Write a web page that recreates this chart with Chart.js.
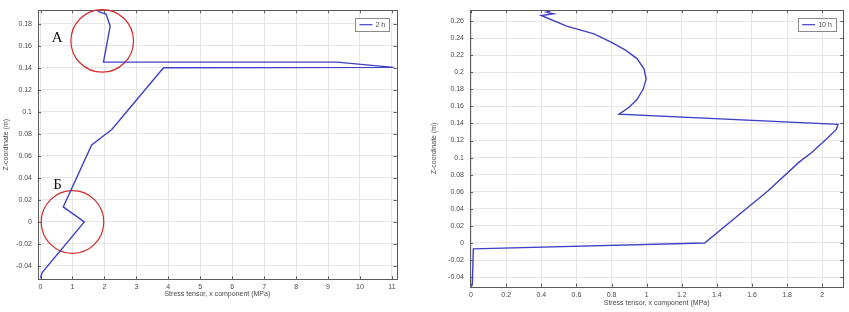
<!DOCTYPE html>
<html lang="en">
<head>
<meta charset="UTF-8">
<title>Stress tensor, x component</title>
<script src="https://cdn.jsdelivr.net/npm/chart.js"></script>
<style>
  body { margin: 0; background: #fff; width: 849px; height: 312px; position: relative; overflow: hidden; }
  canvas { position: absolute; top: 0; }
</style>
</head>
<body>
<canvas id="chart2h" width="410" height="312" style="left:0px"></canvas>
<canvas id="chart10h" width="429" height="312" style="left:420px"></canvas>

<script>
// ---- data: 2 h profile (left) ----
var stress2h = [0.0, 0.05, 1.37, 0.71, 1.6, 2.23, 3.85, 11.05, 9.28, 1.97, 2.18, 2.05, 1.79];
var zcoord2h = [-0.051, -0.046, 0.0, 0.0137, 0.070, 0.084, 0.1402, 0.1405, 0.1453, 0.1453, 0.178, 0.189, 0.1915];
var xTicks2h = [0, 1, 2, 3, 4, 5, 6, 7, 8, 9, 10, 11];
var yTicks2h = [-0.04, -0.02, 0, 0.02, 0.04, 0.06, 0.08, 0.1, 0.12, 0.14, 0.16, 0.18];
// highlighted zones (circles) and their letters
var circleX = [1.93, 1.0];
var circleZ = [0.1646, 0.0];
var noteText = ['А', 'Б'];
var noteX = [0.52, 0.53];
var noteZ = [0.167, 0.0337];

// ---- data: 10 h profile (right) ----
var stress10h = [0.007, 0.013, 1.33, 1.69, 1.87, 1.94, 2.03, 2.08, 2.09, 0.843, 0.90, 0.945, 0.98, 0.997, 0.985, 0.945, 0.88, 0.80, 0.70, 0.545, 0.40, 0.47, 0.43, 0.45];
var zcoord10h = [-0.050, -0.0069, 0.0, 0.061, 0.095, 0.106, 0.123, 0.133, 0.139, 0.151, 0.159, 0.168, 0.180, 0.192, 0.204, 0.216, 0.226, 0.235, 0.245, 0.254, 0.2665, 0.2685, 0.2705, 0.2715];
var xTicks10h = [0, 0.2, 0.4, 0.6, 0.8, 1, 1.2, 1.4, 1.6, 1.8, 2];
var yTicks10h = [-0.04, -0.02, 0, 0.02, 0.04, 0.06, 0.08, 0.1, 0.12, 0.14, 0.16, 0.18, 0.2, 0.22, 0.24, 0.26];

var lineColor = '#4040c6';
var textColor = '#4a4a4a';
var gridColor = '#e6e6e6';
var fontFamily = '"Liberation Sans", Arial, sans-serif';

function toPoints(xs, ys) {
    return xs.map(function(x, i) { return { x: x, y: ys[i] }; });
}

function fmt(v) {
    return String(+v.toFixed(2));
}

// frame, inner tick marks, legend box and letters
function decorPlugin(legendText, notes) {
    return {
        id: 'decor',
        beforeDatasetsDraw: function(chart) {
            var ctx = chart.ctx, a = chart.chartArea;
            var xs = chart.scales.x, ys = chart.scales.y;
            ctx.save();
            ctx.strokeStyle = '#5a5a5a';
            ctx.lineWidth = 1;
            ctx.beginPath();
            xs.ticks.forEach(function(t) {
                var px = Math.round(xs.getPixelForValue(t.value)) + 0.5;
                ctx.moveTo(px, a.bottom); ctx.lineTo(px, a.bottom - 3);
                ctx.moveTo(px, a.top); ctx.lineTo(px, a.top + 3);
            });
            ys.ticks.forEach(function(t) {
                var py = Math.round(ys.getPixelForValue(t.value)) + 0.5;
                ctx.moveTo(a.left, py); ctx.lineTo(a.left + 3, py);
                ctx.moveTo(a.right, py); ctx.lineTo(a.right - 3, py);
            });
            ctx.stroke();
            ctx.strokeRect(Math.round(a.left) + 0.5, Math.round(a.top) + 0.5,
                           Math.round(a.right - a.left), Math.round(a.bottom - a.top));
            ctx.restore();
        },
        afterDraw: function(chart) {
            var ctx = chart.ctx, a = chart.chartArea;
            ctx.save();
            // legend
            ctx.font = '7px ' + fontFamily;
            var tw = ctx.measureText(legendText).width;
            var w = 4 + 13 + 3 + tw + 4, h = 13;
            var bx = a.right - 7.5 - w, by = a.top + 7.5;
            ctx.fillStyle = '#fff';
            ctx.fillRect(bx, by, w, h);
            ctx.strokeStyle = '#8a8a8a';
            ctx.lineWidth = 1;
            ctx.strokeRect(Math.round(bx) + 0.5, Math.round(by) + 0.5, Math.round(w), h);
            ctx.strokeStyle = lineColor;
            ctx.lineWidth = 1.2;
            ctx.beginPath();
            ctx.moveTo(bx + 4, by + h / 2 + 0.5);
            ctx.lineTo(bx + 17, by + h / 2 + 0.5);
            ctx.stroke();
            ctx.fillStyle = textColor;
            ctx.textBaseline = 'middle';
            ctx.fillText(legendText, bx + 20, by + h / 2 + 0.5);
            // letters
            if (notes) {
                ctx.font = '15px "Liberation Serif", "DejaVu Serif", serif';
                ctx.fillStyle = '#111';
                ctx.textAlign = 'center';
                ctx.textBaseline = 'middle';
                notes.text.forEach(function(s, i) {
                    ctx.fillText(s, chart.scales.x.getPixelForValue(notes.x[i]),
                                    chart.scales.y.getPixelForValue(notes.z[i]));
                });
            }
            ctx.restore();
        }
    };
}

function makeChart(id, o) {
    var datasets = [{
        label: o.legend,
        data: toPoints(o.xs, o.ys),
        showLine: true,
        borderColor: lineColor,
        borderWidth: 1.4,
        pointRadius: 0,
        tension: 0
    }];
    if (o.circles) {
        datasets.push({
            label: 'zones',
            data: toPoints(o.circles.x, o.circles.z),
            showLine: false,
            pointStyle: 'circle',
            pointRadius: 31.3,
            borderColor: '#d42a2a',
            borderWidth: 1.2,
            backgroundColor: 'rgba(0,0,0,0)',
            clip: false
        });
    }
    new Chart(document.getElementById(id).getContext('2d'), {
        type: 'scatter',
        data: { datasets: datasets },
        options: {
            responsive: false,
            animation: false,
            layout: { autoPadding: false, padding: { top: o.padTop, right: o.padRight, left: 0, bottom: 0 } },
            plugins: { legend: { display: false }, tooltip: { enabled: false } },
            scales: {
                x: {
                    type: 'linear',
                    min: o.xMin, max: o.xMax,
                    afterBuildTicks: function(s) { s.ticks = o.xTicks.map(function(v) { return { value: v }; }); },
                    afterFit: function(s) { s.height = o.xAxisH; },
                    grid: { color: gridColor, drawTicks: false },
                    border: { display: false },
                    ticks: { padding: 4, color: textColor, font: { size: 7, family: fontFamily }, maxRotation: 0, callback: fmt },
                    title: { display: true, text: 'Stress tensor, x component (MPa)', color: textColor,
                             font: { size: 7, family: fontFamily }, padding: { top: 0, bottom: o.xTitlePad } }
                },
                y: {
                    type: 'linear',
                    min: o.yMin, max: o.yMax,
                    afterBuildTicks: function(s) { s.ticks = o.yTicks.map(function(v) { return { value: v }; }); },
                    afterFit: function(s) { s.width = o.yAxisW; },
                    grid: { color: gridColor, drawTicks: false },
                    border: { display: false },
                    ticks: { padding: 6, color: textColor, font: { size: 7, family: fontFamily }, callback: fmt },
                    title: { display: true, text: 'Z-coordinate (m)', color: textColor,
                             font: { size: 7, family: fontFamily }, padding: { top: o.yTitlePad, bottom: 0 } }
                }
            }
        },
        plugins: [decorPlugin(o.legend, o.notes)]
    });
}

makeChart('chart2h', {
    legend: '2 h',
    xs: stress2h, ys: zcoord2h,
    xTicks: xTicks2h, yTicks: yTicks2h,
    xMin: -0.08, xMax: 11.15, yMin: -0.0521, yMax: 0.1925,
    padTop: 5.3, padRight: 13.3, xAxisH: 32.7, yAxisW: 38,
    xTitlePad: 14, yTitlePad: 2,
    circles: { x: circleX, z: circleZ },
    notes: { text: noteText, x: noteX, z: noteZ }
});

makeChart('chart10h', {
    legend: '10 h',
    xs: stress10h, ys: zcoord10h,
    xTicks: xTicks10h, yTicks: yTicks10h,
    xMin: -0.006, xMax: 2.12, yMin: -0.0512, yMax: 0.2727,
    padTop: 5.7, padRight: 5.7, xAxisH: 25.3, yAxisW: 50,
    xTitlePad: 5, yTitlePad: 10
});
</script>
</body>
</html>
